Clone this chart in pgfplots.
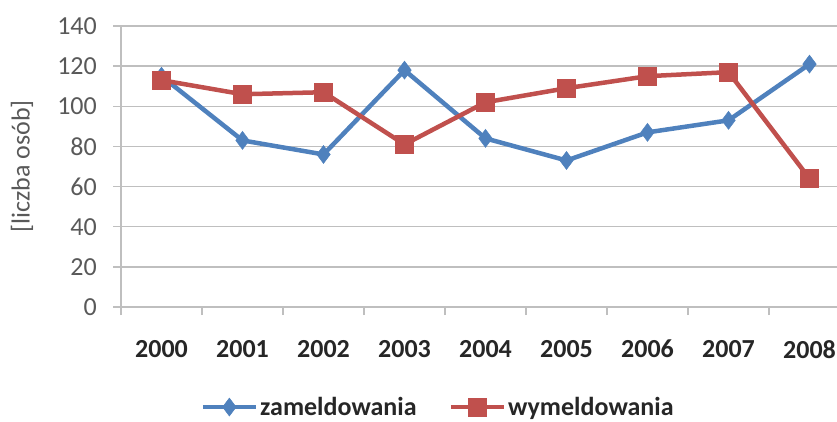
\documentclass[border=0pt]{standalone}
\usepackage{pgfplots}
\pgfplotsset{compat=1.18}
\usepackage{fontspec}
\setmainfont{Carlito}
\definecolor{cblue}{HTML}{4F81BD}
\definecolor{cred}{HTML}{C0504D}
\definecolor{cgrid}{HTML}{BFBFBF}
\definecolor{ctxt}{HTML}{595959}
\definecolor{cdark}{HTML}{262626}
\begin{document}
\begin{tikzpicture}[x=1pt,y=1pt]
\useasboundingbox (0,0) rectangle (837,421);
\clip (0,0) rectangle (837,421);
\begin{axis}[
  at={(121pt,114pt)}, anchor=south west,
  scale only axis, width=729pt, height=281pt,
  xmin=-0.5, xmax=8.5, ymin=0, ymax=140,
  axis lines=left, axis line style={-, draw=cgrid, line width=1.5pt},
  ymajorgrids, grid style={cgrid, line width=1.5pt},
  ytick={0,20,...,140},
  xtick={0,...,8},
  xticklabels={2000,2001,2002,2003,2004,2005,2006,2007,2008},
  minor xtick={-0.5,0.5,...,8.5},
  tick align=outside,
  major tick length=8pt, minor tick length=8pt,
  xtick style={draw=none},
  minor x tick style={draw=cgrid, line width=1.5pt},
  ytick style={draw=cgrid, line width=1.5pt},
  tick label style={font=\fontsize{26}{30}\selectfont},
  /pgf/number format/assume math mode=true,
  yticklabel style={text=ctxt, inner sep=0pt, anchor=east, xshift=-16pt},
  xticklabel style={text=cdark, font=\fontsize{26}{30}\selectfont\bfseries, inner sep=0pt, anchor=north, yshift=-25pt},
  ylabel={[liczba osób]},
  every axis y label/.style={at={(rel axis cs:0,0.5)}, xshift=-99pt, rotate=90, anchor=center, text=ctxt, font=\fontsize{26}{30}\selectfont},
  legend columns=2,
  legend style={draw=none, fill=none, at={(0.435,-0.356)}, anchor=center,
    font=\fontsize{26}{30}\selectfont\bfseries, text=cdark,
    /tikz/every even column/.append style={column sep=30pt}, inner sep=0pt},
  legend image code/.code={
    \draw[#1, mark=none] (0pt,0pt) -- (53pt,0pt);
    \draw[#1, only marks] plot coordinates {(26.5pt,0pt)};
  },
]
\addplot[color=cblue, line width=4.5pt, mark=diamond*, mark size=9pt, mark options={solid, line width=0.5pt}]
  coordinates {(0,115) (1,83) (2,76) (3,118) (4,84) (5,73) (6,87) (7,93) (8,121)};
\addlegendentry{zameldowania}
\addplot[color=cred, line width=4.5pt, mark=square*, mark size=9pt, mark options={solid, line width=0.5pt}]
  coordinates {(0,113) (1,106) (2,107) (3,81) (4,102) (5,109) (6,115) (7,117) (8,64)};
\addlegendentry{wymeldowania}
\end{axis}
\end{tikzpicture}
\end{document}
